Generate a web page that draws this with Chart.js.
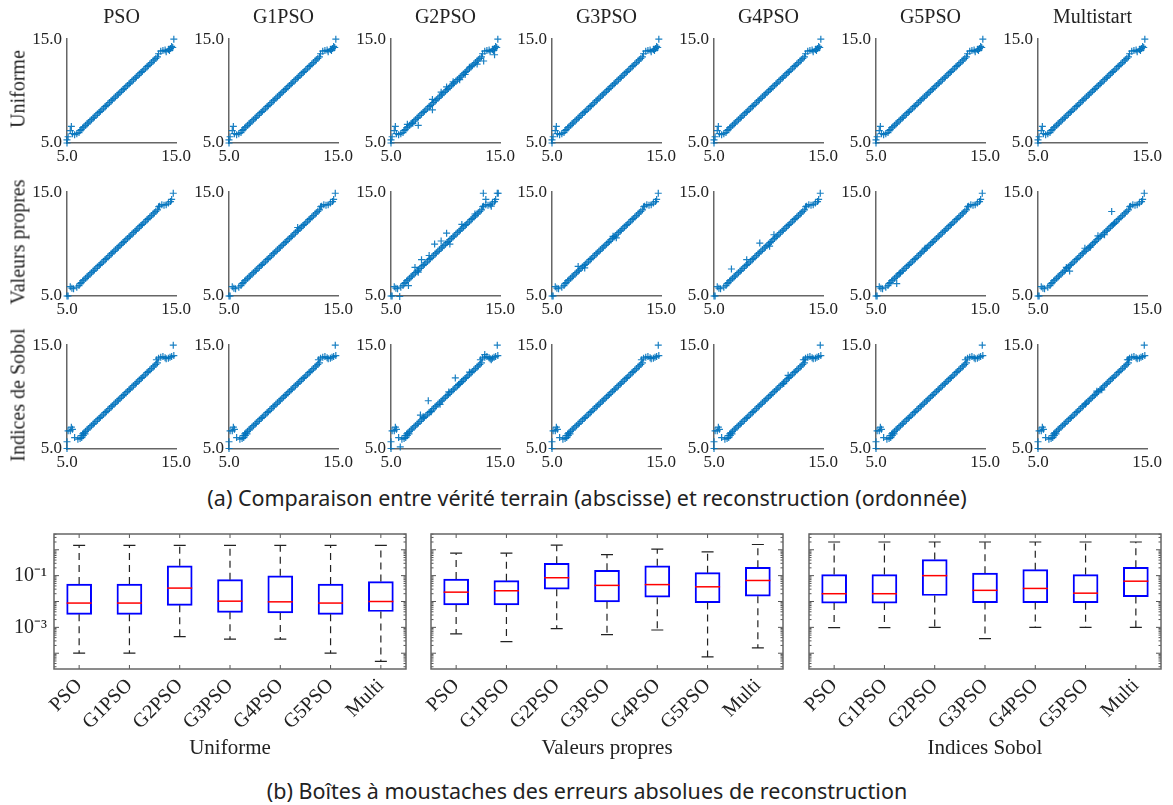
<!DOCTYPE html>
<html>
<head>
<meta charset="utf-8">
<script src="https://cdn.jsdelivr.net/npm/chart.js@4.4.1/dist/chart.umd.min.js"></script>
<style>
  body { margin: 0; background: #fff; width: 1173px; height: 805px; position: relative; overflow: hidden; }
  canvas { position: absolute; }
  .lbl { position: absolute; white-space: nowrap; color: #222; font-family: "Liberation Serif", serif; transform: translate(-50%, -50%); }
  .cap { position: absolute; white-space: nowrap; color: #222; font-family: "Noto Sans", sans-serif; font-size: 21.5px; transform: translate(-50%, -50%); }
</style>
</head>
<body>
<script>
// ---- data ----
const methods = ['PSO', 'G1PSO', 'G2PSO', 'G3PSO', 'G4PSO', 'G5PSO', 'Multistart'];
const rowNames = ['Uniforme', 'Valeurs propres', 'Indices de Sobol'];

// points lying on the diagonal (truth = reconstruction)
const diagVals = [6.3, 6.45, 6.55, 6.7, 6.85, 6.95, 7.1, 7.25, 7.4, 7.5, 7.65, 7.8, 7.95, 8.05, 8.2, 8.35,
  8.5, 8.6, 8.75, 8.9, 9.05, 9.15, 9.3, 9.45, 9.6, 9.7, 9.85, 10.0, 10.15, 10.25, 10.4, 10.55, 10.7,
  10.8, 10.95, 11.1, 11.25, 11.35, 11.5, 11.65, 11.8, 11.9, 12.05, 12.2, 12.35, 12.45, 12.6, 12.75,
  12.9, 13.0, 13.15, 13.3];

// low end [truth, reconstruction]
const headUniforme = [[5.0, 5.0], [5.0, 5.3], [5.1, 5.6], [5.3, 6.2], [5.4, 6.6], [5.5, 5.9], [5.7, 5.8], [5.9, 5.9], [6.1, 6.0], [6.2, 6.2]];
const headValeurs = [[5.0, 5.0], [5.1, 5.0], [5.3, 5.9], [5.45, 5.75], [5.6, 5.7], [5.9, 5.85], [6.1, 6.0], [6.2, 6.2]];
const headSobol = [[5.0, 5.05], [5.0, 5.7], [5.1, 6.75], [5.3, 6.75], [5.4, 7.1], [5.5, 6.9], [5.7, 6.1], [6.0, 5.95],
  [6.2, 6.0], [6.35, 6.1], [6.5, 6.3], [6.65, 6.45]];

// high end (plateau)
const tailUniforme = [[13.4, 13.6], [13.6, 13.85], [13.8, 13.9], [14.0, 13.95], [14.1, 13.8], [14.3, 14.0], [14.4, 13.9], [14.5, 14.1], [14.6, 14.3], [14.7, 14.2], [14.8, 15.0]];
const tailValeurs = [[13.4, 13.6], [13.5, 13.65], [13.7, 13.8], [13.9, 13.75], [14.1, 13.8], [14.3, 13.95], [14.5, 14.1], [14.6, 14.3], [14.75, 14.9]];
const tailSobol = [[13.2, 13.6], [13.4, 13.75], [13.6, 13.85], [13.8, 13.9], [14.0, 13.8], [14.1, 13.7], [14.3, 13.75], [14.45, 13.85], [14.6, 13.9], [14.8, 14.0], [14.75, 15.0]];

// extra scattered points per method
const outUniforme = [
  [], [],
  [[7.5, 6.7], [8.8, 8.2], [8.8, 9.2], [9.6, 9.9], [10.1, 10.4], [10.7, 10.9], [11.3, 11.1], [12.9, 12.6], [13.5, 12.9], [14.5, 13.5], [6.5, 6.8], [7.0, 6.9], [12.2, 12.3], [11.8, 11.6]],
  [], [], [], []
];
const outValeurs = [
  [],
  [[11.3, 11.6]],
  [[13.47, 14.9], [14.84, 14.9], [13.7, 14.3], [14.2, 13.65], [10.1, 11.05], [9.0, 10.0], [7.8, 8.5], [10.4, 10.0], [6.6, 6.0], [5.8, 4.95], [7.2, 7.75], [8.5, 8.9], [11.5, 11.9], [12.7, 12.9], [9.6, 10.3], [7.5, 7.3]],
  [[7.4, 7.85], [8.0, 7.7], [10.6, 10.75], [10.9, 10.6]],
  [[6.6, 7.6], [8.0, 8.5], [9.2, 10.1], [10.1, 9.8], [10.5, 10.9]],
  [[6.9, 6.2], [7.2, 7.2], [9.5, 9.6]],
  [[11.76, 13.14], [7.6, 7.75], [7.9, 7.4], [11.1, 10.9], [9.8, 9.7], [9.3, 9.6], [12.0, 12.0], [10.5, 10.8]]
];
const outSobol = [
  [], [],
  [[8.42, 9.65], [10.9, 11.85], [11.2, 11.2], [11.5, 11.5], [5.85, 5.2], [7.95, 8.1], [7.7, 8.27], [8.7, 8.6], [13.6, 14.1], [14.2, 13.6], [9.5, 9.3], [10.3, 10.5], [12.2, 12.4]],
  [],
  [[11.8, 12.1], [11.4, 11.3], [13.35, 13.6]],
  [],
  [[10.4, 10.57], [10.85, 10.7], [9.35, 9.34], [13.3, 13.6]]
];

// boxplots: absolute reconstruction errors
const boxLabels = ['PSO', 'G1PSO', 'G2PSO', 'G3PSO', 'G4PSO', 'G5PSO', 'Multi'];
const uniLow  = [1.0e-4, 1.0e-4, 4.4e-4, 3.5e-4, 3.5e-4, 1.0e-4, 4.8e-5];
const uniQ1   = [0.0032, 0.0032, 0.0071, 0.0038, 0.0036, 0.0032, 0.0041];
const uniMed  = [0.0087, 0.0087, 0.033, 0.0103, 0.0097, 0.0087, 0.0100];
const uniQ3   = [0.047, 0.047, 0.24, 0.070, 0.098, 0.047, 0.059];
const uniHigh = [1.47, 1.47, 1.47, 1.47, 1.47, 1.47, 1.47];

const vpLow  = [5.6e-4, 2.8e-4, 8.9e-4, 5.2e-4, 7.9e-4, 7.2e-5, 1.6e-4];
const vpQ1   = [0.0074, 0.0074, 0.030, 0.0097, 0.0147, 0.0091, 0.016];
const vpMed  = [0.023, 0.026, 0.083, 0.042, 0.045, 0.037, 0.065];
const vpQ3   = [0.074, 0.064, 0.30, 0.16, 0.24, 0.13, 0.21];
const vpHigh = [0.74, 0.74, 1.5, 0.65, 1.06, 0.83, 1.6];

const sobLow  = [9.8e-4, 9.8e-4, 1.0e-3, 3.7e-4, 1.0e-3, 1.0e-3, 1.0e-3];
const sobQ1   = [0.0087, 0.0087, 0.017, 0.0091, 0.0091, 0.009, 0.0155];
const sobMed  = [0.020, 0.020, 0.10, 0.027, 0.032, 0.021, 0.061];
const sobQ3   = [0.11, 0.11, 0.42, 0.125, 0.17, 0.11, 0.21];
const sobHigh = [2.0, 2.0, 2.0, 2.0, 2.0, 2.0, 2.0];

// ---- layout ----
Chart.defaults.font.family = 'Liberation Serif';
Chart.defaults.color = '#222';

const colX = [67, 229, 391, 552, 714, 876, 1038];
const rowTop = [34, 187, 340];
const PW = 109;
const heads = [headUniforme, headValeurs, headSobol];
const tails = [tailUniforme, tailValeurs, tailSobol];
const outs = [outUniforme, outValeurs, outSobol];

function addLabel(cls, text, x, y, size, rot) {
  const d = document.createElement('div');
  d.className = cls;
  d.textContent = text;
  d.style.left = x + 'px';
  d.style.top = y + 'px';
  if (size) d.style.fontSize = size + 'px';
  if (rot) d.style.transform = 'translate(-50%, -50%) rotate(' + rot + 'deg)';
  document.body.appendChild(d);
}

function makeScatter(r, c) {
  const L = 42, R = 22, T = 10, B = 26;
  const cv = document.createElement('canvas');
  cv.width = L + PW + R;
  cv.height = T + PW + B;
  cv.style.left = (colX[c] - L) + 'px';
  cv.style.top = (rowTop[r] - T) + 'px';
  document.body.appendChild(cv);

  const pts = diagVals.map(v => ({ x: v, y: v }))
    .concat(heads[r].map(p => ({ x: p[0], y: p[1] })))
    .concat(tails[r].map(p => ({ x: p[0], y: p[1] })))
    .concat(outs[r][c].map(p => ({ x: p[0], y: p[1] })));

  const tickFont = { family: 'Liberation Serif', size: 17 };
  new Chart(cv, {
    type: 'scatter',
    data: {
      datasets: [{
        data: pts,
        pointStyle: 'cross',
        radius: 3.5,
        borderColor: 'rgba(0,114,189,0.9)',
        borderWidth: 1.2,
        clip: false
      }]
    },
    options: {
      responsive: false,
      animation: false,
      events: [],
      layout: { padding: { top: T, right: R, left: 0, bottom: 0 } },
      plugins: { legend: { display: false }, tooltip: { enabled: false } },
      scales: {
        x: {
          type: 'linear', min: 5, max: 15,
          afterBuildTicks: s => { s.ticks = [{ value: 5 }, { value: 15 }]; },
          afterFit: s => { s.height = B; },
          grid: { display: false, drawTicks: false },
          border: { color: '#666', width: 1.5 },
          ticks: { padding: 3, maxRotation: 0, font: tickFont, callback: v => v.toFixed(1) }
        },
        y: {
          type: 'linear', min: 5, max: 15,
          afterBuildTicks: s => { s.ticks = [{ value: 5 }, { value: 15 }]; },
          afterFit: s => { s.width = L; },
          grid: { display: false, drawTicks: false },
          border: { color: '#666', width: 1.5 },
          ticks: { padding: 5, font: tickFont, callback: v => v.toFixed(1) }
        }
      }
    }
  });
}

for (let r = 0; r < 3; r++) {
  for (let c = 0; c < 7; c++) makeScatter(r, c);
  addLabel('lbl', rowNames[r], 18, rowTop[r] + PW / 2, 20, -90);
}
methods.forEach((m, c) => addLabel('lbl', m, colX[c] + PW / 2, 16, 20));

addLabel('cap', '(a) Comparaison entre vérité terrain (abscisse) et reconstruction (ordonnée)', 587, 497);

// ---- boxplots ----
const boxX = [54, 431, 809];
const BW = 352;
const yMin = Math.pow(10, -4.61), yMax = Math.pow(10, 0.61);

function boxPlugin(low, med, high) {
  return {
    id: 'boxExtras',
    afterDatasetsDraw(chart) {
      const { ctx, chartArea: a, scales: { x, y } } = chart;
      ctx.save();
      boxLabels.forEach((lab, i) => {
        const px = x.getPixelForValue(i);
        const q1 = chart.data.datasets[0].data[i][0];
        const q3 = chart.data.datasets[0].data[i][1];
        // whiskers
        ctx.strokeStyle = '#222';
        ctx.lineWidth = 1.2;
        ctx.setLineDash([7, 5]);
        ctx.beginPath();
        ctx.moveTo(px, y.getPixelForValue(q3));
        ctx.lineTo(px, y.getPixelForValue(high[i]));
        ctx.moveTo(px, y.getPixelForValue(q1));
        ctx.lineTo(px, y.getPixelForValue(low[i]));
        ctx.stroke();
        ctx.setLineDash([]);
        ctx.beginPath();
        [high[i], low[i]].forEach(v => {
          const py = y.getPixelForValue(v);
          ctx.moveTo(px - 6, py);
          ctx.lineTo(px + 6, py);
        });
        ctx.stroke();
        // median
        ctx.strokeStyle = '#ff0000';
        ctx.lineWidth = 1.5;
        ctx.beginPath();
        const pm = y.getPixelForValue(med[i]);
        ctx.moveTo(px - 12.5, pm);
        ctx.lineTo(px + 12.5, pm);
        ctx.stroke();
      });
      // inward tick marks
      ctx.strokeStyle = '#555';
      ctx.lineWidth = 1;
      ctx.beginPath();
      y.ticks.forEach(t => {
        const e = Math.log10(t.value);
        const major = Math.abs(e - Math.round(e)) < 1e-6;
        const len = major ? 5 : 2.5;
        const py = y.getPixelForValue(t.value);
        ctx.moveTo(a.left, py); ctx.lineTo(a.left + len, py);
        ctx.moveTo(a.right, py); ctx.lineTo(a.right - len, py);
      });
      boxLabels.forEach((lab, i) => {
        const px = x.getPixelForValue(i);
        ctx.moveTo(px, a.bottom); ctx.lineTo(px, a.bottom - 4);
        ctx.moveTo(px, a.top); ctx.lineTo(px, a.top + 4);
      });
      ctx.stroke();
      // frame
      ctx.strokeStyle = '#666';
      ctx.lineWidth = 1.5;
      ctx.strokeRect(a.left, a.top, a.right - a.left, a.bottom - a.top);
      ctx.restore();
    }
  };
}

function makeBox(p, title, low, q1, med, q3, high) {
  const L = 50, R = 10, T = 6, H = 250, B = H - T - 148;
  const cv = document.createElement('canvas');
  cv.width = L + BW + R;
  cv.height = H;
  cv.style.left = (boxX[p] - L) + 'px';
  cv.style.top = '515px';
  document.body.appendChild(cv);

  new Chart(cv, {
    type: 'bar',
    data: {
      labels: boxLabels,
      datasets: [{
        data: boxLabels.map((m, i) => [q1[i], q3[i]]),
        backgroundColor: 'rgba(0,0,0,0)',
        borderColor: '#0000ff',
        borderWidth: 1.3,
        borderSkipped: false,
        barThickness: 25
      }]
    },
    options: {
      responsive: false,
      animation: false,
      events: [],
      layout: { padding: { top: T, right: R, left: 0, bottom: 0 } },
      plugins: { legend: { display: false }, tooltip: { enabled: false } },
      scales: {
        x: {
          type: 'category',
          offset: true,
          afterFit: s => { s.height = B; },
          grid: { display: false, drawTicks: false },
          border: { display: false },
          ticks: { padding: 5, minRotation: 45, maxRotation: 45, font: { size: 20 } },
          title: { display: true, text: title, font: { size: 21 }, padding: { top: 0, bottom: 4 } }
        },
        y: {
          type: 'logarithmic',
          min: yMin, max: yMax,
          afterBuildTicks: s => {
            const t = [];
            for (let e = -5; e <= 0; e++) {
              for (let m = 1; m <= 9; m++) {
                const v = m * Math.pow(10, e);
                if (v >= yMin && v <= yMax) t.push({ value: v });
              }
            }
            s.ticks = t;
          },
          afterFit: s => { s.width = L; },
          grid: { display: false, drawTicks: false },
          border: { display: false },
          ticks: {
            autoSkip: false,
            padding: 7,
            font: { size: 20 },
            callback: v => {
              if (p !== 0) return '';
              const e = Math.log10(v);
              if (Math.abs(e + 1) < 1e-6) return '10\u207B\u00B9';
              if (Math.abs(e + 3) < 1e-6) return '10\u207B\u00B3';
              return '';
            }
          }
        }
      }
    },
    plugins: [boxPlugin(low, med, high)]
  });
}

makeBox(0, 'Uniforme', uniLow, uniQ1, uniMed, uniQ3, uniHigh);
makeBox(1, 'Valeurs propres', vpLow, vpQ1, vpMed, vpQ3, vpHigh);
makeBox(2, 'Indices Sobol', sobLow, sobQ1, sobMed, sobQ3, sobHigh);

addLabel('cap', '(b) Boîtes à moustaches des erreurs absolues de reconstruction', 587, 790);
</script>
</body>
</html>
